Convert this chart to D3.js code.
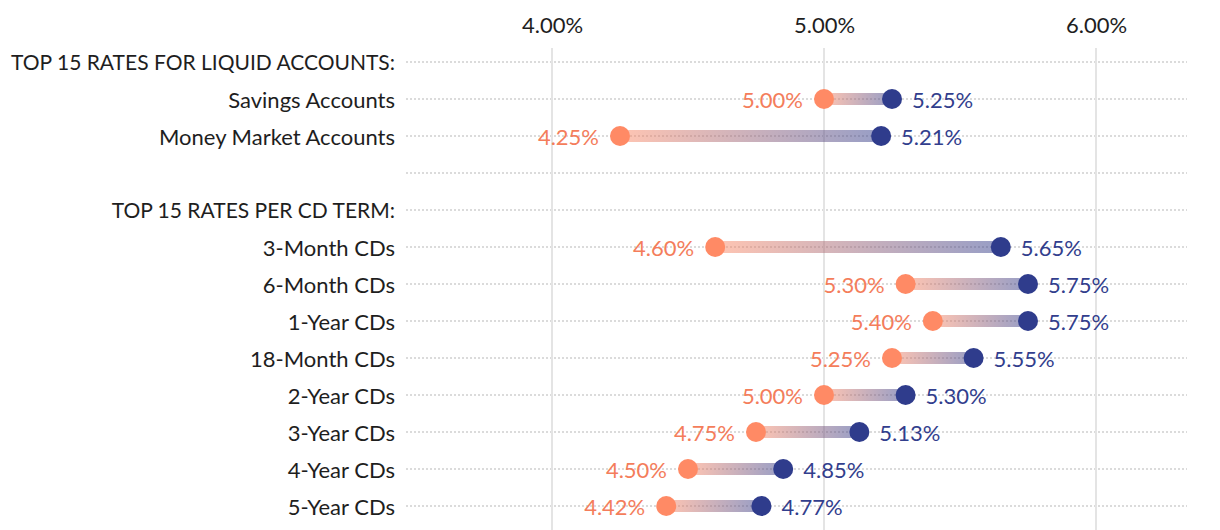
<!DOCTYPE html>
<html>
<head>
<meta charset="utf-8">
<script src="https://cdn.jsdelivr.net/npm/d3@7"></script>
<style>
  html, body { margin: 0; padding: 0; background: #fff; }
  svg { display: block; }
</style>
</head>
<body>
<svg id="chart" width="1220" height="530"></svg>
<script>
// ---- data ----
const rowLabels = [
  "TOP 15 RATES FOR LIQUID ACCOUNTS:",
  "Savings Accounts",
  "Money Market Accounts",
  "",
  "TOP 15 RATES PER CD TERM:",
  "3-Month CDs",
  "6-Month CDs",
  "1-Year CDs",
  "18-Month CDs",
  "2-Year CDs",
  "3-Year CDs",
  "4-Year CDs",
  "5-Year CDs"
];
const headerRows = [0, 4];
const categories = ["Savings Accounts","Money Market Accounts","3-Month CDs","6-Month CDs","1-Year CDs","18-Month CDs","2-Year CDs","3-Year CDs","4-Year CDs","5-Year CDs"];
const lowRates  = [5.00, 4.25, 4.60, 5.30, 5.40, 5.25, 5.00, 4.75, 4.50, 4.42];
const highRates = [5.25, 5.21, 5.65, 5.75, 5.75, 5.55, 5.30, 5.13, 4.85, 4.77];
const tickValues = [4, 5, 6];

const FONT = "Lato, 'Noto Sans', sans-serif";
const orange = "#FF8A65", navy = "#2F3C8C";
const orangeText = "#F47D5B", navyText = "#323E8D";

const svg = d3.select("#chart");
const rowKeys = rowLabels.map((d, i) => i);
const y = d3.scalePoint().domain(rowKeys).range([62, 506]);
const x = d3.scaleLinear().domain([4, 6]).range([552, 1096]);

// gradient
const defs = svg.append("defs");
const grad = defs.append("linearGradient").attr("id", "seg").attr("x1", "0").attr("x2", "1").attr("y1", "0").attr("y2", "0");
grad.append("stop").attr("offset", "0%").attr("stop-color", orange);
grad.append("stop").attr("offset", "100%").attr("stop-color", navy);

// horizontal dotted lines
svg.append("g").selectAll("line").data(rowKeys).join("line")
  .attr("x1", 406).attr("x2", 1187)
  .attr("y1", d => y(d)).attr("y2", d => y(d))
  .attr("stroke", "#cfcfcf").attr("stroke-width", 1.5).attr("stroke-dasharray", "2,2");

// vertical gridlines
svg.append("g").selectAll("line").data(tickValues).join("line")
  .attr("x1", d => x(d)).attr("x2", d => x(d))
  .attr("y1", 48).attr("y2", 530)
  .attr("stroke", "#e4e4e4").attr("stroke-width", 2);

// top axis
const axis = svg.append("g").attr("transform", "translate(0,33)")
  .call(d3.axisTop(x).tickValues(tickValues).tickSize(0).tickPadding(0).tickFormat(d => d.toFixed(2) + "%"));
axis.select(".domain").remove();
axis.selectAll("text").attr("font-family", FONT).attr("font-size", 22).attr("fill", "#1e1e1e");

// row labels
svg.append("g").selectAll("text").data(rowKeys).join("text")
  .attr("x", 395).attr("y", d => y(d)).attr("dy", "0.4em")
  .attr("text-anchor", "end")
  .attr("font-family", FONT).attr("font-size", d => headerRows.includes(d) ? 21 : 22).attr("fill", "#1e1e1e")
  .text(d => rowLabels[d]);

const rows = categories.map((c, i) => ({ c, lo: lowRates[i], hi: highRates[i], r: rowLabels.indexOf(c) }));

// segments
svg.append("g").selectAll("rect").data(rows).join("rect")
  .attr("x", d => x(d.lo)).attr("width", d => x(d.hi) - x(d.lo))
  .attr("y", d => y(d.r) - 6).attr("height", 12)
  .attr("fill", "url(#seg)").attr("opacity", 0.5);

// dots
svg.append("g").selectAll("circle").data(rows).join("circle")
  .attr("cx", d => x(d.lo)).attr("cy", d => y(d.r)).attr("r", 10).attr("fill", orange);
svg.append("g").selectAll("circle").data(rows).join("circle")
  .attr("cx", d => x(d.hi)).attr("cy", d => y(d.r)).attr("r", 10).attr("fill", navy);

// value labels
svg.append("g").selectAll("text").data(rows).join("text")
  .attr("x", d => x(d.lo) - 21).attr("y", d => y(d.r)).attr("dy", "0.4em")
  .attr("text-anchor", "end").attr("font-family", FONT).attr("font-size", 22).attr("fill", orangeText)
  .text(d => d.lo.toFixed(2) + "%");
svg.append("g").selectAll("text").data(rows).join("text")
  .attr("x", d => x(d.hi) + 20).attr("y", d => y(d.r)).attr("dy", "0.4em")
  .attr("text-anchor", "start").attr("font-family", FONT).attr("font-size", 22).attr("fill", navyText)
  .text(d => d.hi.toFixed(2) + "%");
</script>
</body>
</html>
